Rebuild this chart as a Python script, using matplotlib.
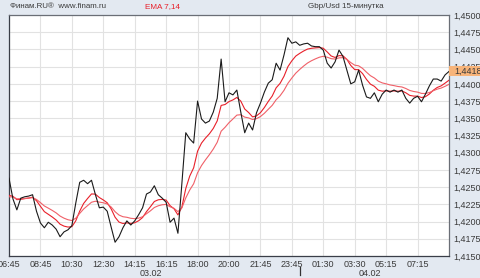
import matplotlib
matplotlib.use("Agg")
import matplotlib.pyplot as plt
from matplotlib.patches import Rectangle
import numpy as np

# ---- data ----
closes = [
    1.4263, 1.4233, 1.4217, 1.4234, 1.4236, 1.4237, 1.4239, 1.4215, 1.4198, 1.4191,
    1.4199, 1.4195, 1.4189, 1.4178, 1.4185, 1.4188, 1.4194, 1.4227, 1.4257, 1.4260,
    1.4255, 1.4260, 1.4239, 1.4220, 1.4221, 1.4215, 1.4192, 1.4170, 1.4178, 1.4191,
    1.4201, 1.4195, 1.4201, 1.4210, 1.4220, 1.4240, 1.4243, 1.4252, 1.4239, 1.4234,
    1.4228, 1.4199, 1.4205, 1.4183, 1.4255, 1.4329, 1.4320, 1.4314, 1.4375, 1.4349,
    1.4343, 1.4346, 1.4359, 1.4379, 1.4436, 1.4374, 1.4387, 1.4384, 1.4391, 1.4359,
    1.4329, 1.4343, 1.4333, 1.4358, 1.4372, 1.4388, 1.4401, 1.4406, 1.4430, 1.4420,
    1.4442, 1.4467, 1.4459, 1.4461, 1.4456, 1.4458, 1.4459, 1.4455, 1.4454, 1.4454,
    1.4449, 1.4430, 1.4423, 1.4432, 1.4449, 1.4440, 1.4420, 1.4400, 1.4403, 1.4420,
    1.4398, 1.4381, 1.4379, 1.4387, 1.4374, 1.4385, 1.4391, 1.4388, 1.4391, 1.4388,
    1.4391, 1.4379, 1.4372, 1.4379, 1.4382, 1.4374, 1.4385, 1.4397, 1.4407, 1.4407,
    1.4404, 1.4413, 1.4418,
]
ema_periods = [7, 14]
ema_start = [1.4238, 1.4236]          # indicator values at the first visible bar
time_labels = ["06:45", "08:45", "10:30", "12:30", "14:15", "16:15", "18:00",
               "20:00", "21:45", "23:45", "01:30", "03:30", "05:15", "07:15"]
time_label_bars = [0, 8, 16, 24, 32, 40, 48, 56, 64, 72, 80, 88, 96, 104]
date_labels = ["03.02", "04.02"]
date_label_bars = [36.1, 91.9]
day_separator_bar = 74
y_ticks = [1.4150, 1.4175, 1.4200, 1.4225, 1.4250, 1.4275, 1.4300, 1.4325,
           1.4350, 1.4375, 1.4400, 1.4425, 1.4450, 1.4475, 1.4500]
last_price = closes[-1]

# ---- EMA ----
def ema(values, n, start):
    a = 2.0 / (n + 1)
    out = [start]
    for v in values[1:]:
        out.append(out[-1] + a * (v - out[-1]))
    return out

emas = [ema(closes, n, s) for n, s in zip(ema_periods, ema_start)]

# ---- figure ----
W, H = 480, 278
BG = "#e3e9f1"
fig = plt.figure(figsize=(W / 100, H / 100), dpi=100, facecolor=BG)
ax = fig.add_axes([9 / W, 22 / H, 440 / W, 241 / H], facecolor="white")

x = np.arange(len(closes))
ax.plot(x, closes, color="#1a1a1a", lw=0.8, zorder=4)
ax.plot(x, emas[0], color="#e8202a", lw=0.8, zorder=3)
ax.plot(x, emas[1], color="#f06068", lw=0.8, zorder=3)

ax.set_xlim(0, len(closes) - 1)
ax.set_ylim(1.4150, 1.4500)

font = "Liberation Sans"
tc = "#3a3a3a"
ax.set_yticks(y_ticks)
ax.set_yticklabels([f"{v:.4f}".replace(".", ",") for v in y_ticks],
                   fontsize=6.5, family=font, color=tc)
ax.yaxis.tick_right()
ax.set_xticks(time_label_bars)
ax.set_xticklabels(time_labels, fontsize=6.5, family=font, color=tc)
ax.tick_params(axis="both", length=0, pad=3)
ax.grid(True, color="#e2e2e2", lw=0.8, zorder=0)
ax.set_axisbelow(True)
for s in ax.spines.values():
    s.set_color("#6a6e76")
    s.set_linewidth(0.9)
ax.spines["left"].set_color("#3a3e48")
ax.spines["bottom"].set_color("#3a3e48")

trans = ax.get_xaxis_transform()
for lab, b in zip(date_labels, date_label_bars):
    ax.text(b, -17 / 241, lab, transform=trans, ha="center", va="center",
            fontsize=6.5, family=font, color=tc, clip_on=False)
ax.plot([day_separator_bar, day_separator_bar], [-11 / 241, -19 / 241], transform=trans,
        color="#333333", lw=0.9, clip_on=False)

# header
fig.text(10 / W, 1 - 7 / H, "Финам.RU®  www.finam.ru", fontsize=5.7, family=font,
         color=tc, va="center", ha="left")
fig.text(145 / W, 1 - 7 / H, "EMA 7,14", fontsize=5.9, family=font,
         color="#e8202a", va="center", ha="left")
fig.text(346 / W, 1 - 7 / H, "Gbp/Usd 15-минутка", fontsize=5.8, family=font,
         color=tc, va="center", ha="center")

# last price marker
ytr = ax.get_yaxis_transform()
ax.add_patch(Rectangle((1.0, last_price - 0.0007), 31 / 440, 0.0015, transform=ytr,
                       facecolor="#f7b47a", edgecolor="none", clip_on=False, zorder=5))
ax.text(1.0 + 5 / 440, last_price, f"{last_price:.4f}".replace(".", ","), transform=ytr,
        fontsize=6.5, family=font, color=tc, va="center", ha="left", zorder=6,
        clip_on=False)

fig.savefig("out.png", dpi=100, facecolor=BG)
